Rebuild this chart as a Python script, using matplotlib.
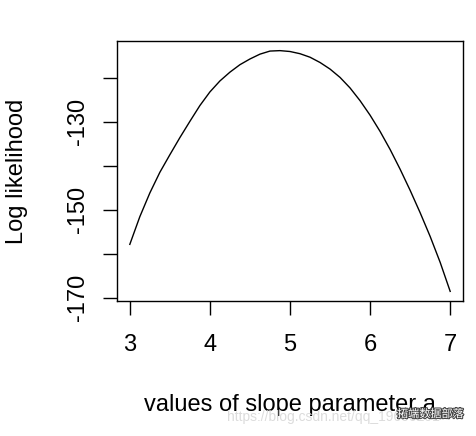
import matplotlib
matplotlib.use("Agg")
import matplotlib.pyplot as plt
import matplotlib.patheffects as pe

# log likelihood profile over slope parameter a
slope_a = [3.0, 3.125, 3.25, 3.375, 3.5, 3.625, 3.75, 3.875, 4.0, 4.125, 4.25,
           4.375, 4.5, 4.625, 4.75, 4.875, 5.0, 5.125, 5.25, 5.375, 5.5, 5.625,
           5.75, 5.875, 6.0, 6.125, 6.25, 6.375, 6.5, 6.625, 6.75, 6.875, 7.0]
loglik = [-157.9, -151.6, -146.2, -141.5, -137.5, -133.6, -129.9, -126.3, -123.2, -120.7, -118.7,
          -117.0, -115.7, -114.6, -113.9, -113.8, -114.0, -114.5, -115.3, -116.5, -118.0, -119.9,
          -122.3, -125.2, -128.5, -132.2, -136.3, -140.8, -145.6, -150.7, -156.1, -162.0, -168.6]

x_ticks = [3, 4, 5, 6, 7]
y_ticks = [-170, -160, -150, -140, -130, -120]
y_labels = ["-170", "", "-150", "", "-130", ""]

plt.rcParams['font.family'] = ['Liberation Sans', 'DejaVu Sans']

fig = plt.figure(figsize=(4.77, 4.36), dpi=100)
ax = fig.add_axes([117/477, 1 - 301/436, 346/477, 260/436])

ax.plot(slope_a, loglik, color='black', lw=1.0)
ax.margins(0.04)

ax.set_xticks(x_ticks)
ax.set_yticks(y_ticks)
ax.set_yticklabels(y_labels, rotation=90, va='center')
ax.tick_params(axis='both', direction='out', length=10, width=1.0,
               labelsize=17, colors='black')
ax.tick_params(axis='x', pad=14)
ax.tick_params(axis='y', pad=10)
for s in ax.spines.values():
    s.set_linewidth(1.0)

ax.set_xlabel("values of slope parameter a", fontsize=17, va='center')
ax.xaxis.set_label_coords(0.5, -0.40)
ax.set_ylabel("Log likelihood", fontsize=17, va='center')
ax.yaxis.set_label_coords(-0.289, 0.5)

# watermark
fig.text(227/477, 1 - 417/436, "https://blog.csdn.net/qq_19600291", fontsize=10,
         color='#dcdcdc', ha='left', va='center', zorder=1)
fig.text(397/477, 1 - 414/436, "拓端数据部落", fontsize=8, color='white',
         family=['Noto Sans CJK SC', 'DejaVu Sans'], ha='left', va='center', zorder=3,
         path_effects=[pe.withStroke(linewidth=1.5, foreground='#444444')])

fig.savefig("out.png", dpi=100)
